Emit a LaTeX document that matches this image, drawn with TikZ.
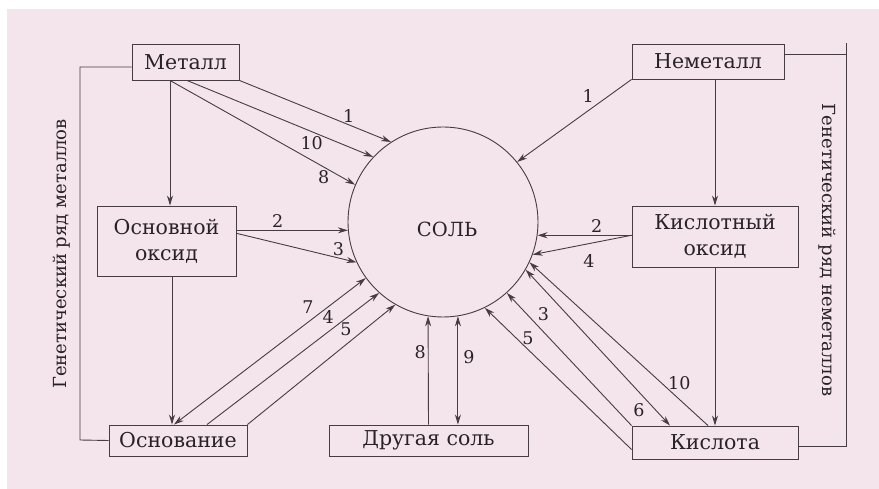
\documentclass[tikz,border=0pt]{standalone}
\usepackage{fontspec}
\setmainfont{DejaVu Serif}
\usetikzlibrary{arrows.meta}
\definecolor{bgpink}{RGB}{244,228,235}
\definecolor{linegray}{RGB}{70,60,66}
\definecolor{textgray}{RGB}{40,34,38}

\begin{document}
\begin{tikzpicture}[x=1pt, y=-1pt, line width=0.9pt, color=linegray, text=textgray,
    >={Stealth[length=10pt, width=6pt]},
    box/.style={draw, rectangle, inner sep=0pt, align=center, font=\fontsize{20.5}{26}\selectfont},
    num/.style={font=\fontsize{17.5}{17.5}\selectfont, inner sep=2pt},
    side/.style={font=\fontsize{18}{18}\selectfont}]
    \useasboundingbox (0,0) rectangle (879,489);
    \fill[bgpink] (7,9) rectangle (879,489);

    % Salt
    \node[circle, draw, minimum size=190pt, inner sep=0pt, text height=30pt, text depth=0pt, font=\fontsize{19.5}{19.5}\selectfont] (sol) at (443,222) {\hspace{8pt}СОЛЬ};

    % Metals
    \node[box, minimum width=107pt, minimum height=36pt] (met) at (185.5,62) {Металл};
    \node[box, minimum width=139pt, minimum height=70pt] (osnox) at (166.5,241) {Основной\\оксид};
    \node[box, minimum width=138pt, minimum height=31pt] (osn) at (178,440.5) {Основание};

    % Nonmetals
    \node[box, minimum width=152pt, minimum height=35pt] (nemet) at (708,61.5) {Неметалл};
    \node[box, minimum width=166pt, minimum height=61pt] (kox) at (715,236.5) {Кислотный\\оксид};
    \node[box, minimum width=166pt, minimum height=33pt] (kisl) at (715,442.5) {Кислота};

    \node[box, minimum width=199pt, minimum height=31pt] (dr) at (428.5,440.5) {Другая соль};

    % Metal
    \draw[->] (met.south east) -- (sol.123) node[num, pos=0.72, above] {1};
    \draw[->] ([xshift=1.5pt]met.south) -- (sol.137) node[num, pos=0.67, below=2pt] {10};
    \draw[->] ([xshift=-15.5pt]met.south) -- (sol.157) node[num, pos=0.83, below=1pt] {8};
    \draw[->] ([xshift=-15.5pt]met.south) -- ([xshift=-15.5pt]met.south |- osnox.north);

    % Basic oxide
    \coordinate (oxr) at (osnox.east |- sol.185);
    \draw[->] (oxr) -- (sol.185) node[num, pos=0.37, above] {2};
    \draw[->] ([yshift=-3pt]oxr) -- (sol.205) node[num, pos=0.85, above] {3};
    \draw[->] ([xshift=5.5pt]osnox.south) -- ([xshift=5.5pt]osnox.south |- osn.north);

    % Base
    \draw[<->] ([xshift=-4pt]osn.north) -- (sol.216) node[num, pos=0.74, above left] {7};
    \draw[->] ([xshift=29pt]osn.north) -- (sol.228) node[num, pos=0.75, above left] {4};
    \draw[->] (osn.north east) -- (sol.240) node[num, pos=0.72, above left] {5};

    % Other salt
    \draw[->] (dr.north) -- (sol.261) node[num, pos=0.67, left] {8};
    \draw[<->] (sol.279) -- (sol.279 |- dr.north) node[num, pos=0.38, right=3pt] {9};

    % Nonmetal
    \draw[->] (nemet.south west) -- (sol.39) node[num, pos=0.31, above left] {1};
    \draw[->] (kox.north |- nemet.south) -- (kox.north);

    % Acid oxide
    \coordinate (kxl) at (kox.west |- sol.352);
    \draw[->] (kxl) -- (sol.352) node[num, pos=0.37, above] {2};
    \draw[->] (kxl) -- (sol.340) node[num, pos=0.43, below=8pt] {4};
    \draw[->] (kox) -- (kisl);

    % Acid
    \draw[->] ([xshift=-7pt]kisl.north) -- (sol.335) node[num, pos=0.22, above right=-3pt] {10};
    \draw[<->] (sol.330) -- ([xshift=-45pt]kisl.north) node[num, pos=0.84, below left] {6};
    \draw[->] (kisl.north west) -- (sol.312) node[num, pos=0.77, above right] {3};
    \draw[->] ([yshift=-7pt]kisl.west) -- (sol.296) node[num, pos=0.74, above right=-3pt] {5};

    % Genetic series
    \coordinate (gml) at (80,440);
    \draw ([yshift=-5pt]met.west) -| (gml) -- (osn.west);
    \node[side, rotate=90] (gm) at (62,254) {Генетический ряд металлов};

    \coordinate (gnt) at (846,43);
    \coordinate (gnb) at (846,446);
    \coordinate (nmr) at ([yshift=7.5pt]nemet.east);
    \draw (nmr) -- (nmr -| gnt);
    \draw (gnt) -- (gnb) -- (gnb -| kisl.east);
    \node[side, rotate=-90] (gn) at (827,250) {Генетический ряд неметаллов};
\end{tikzpicture}
\end{document}
